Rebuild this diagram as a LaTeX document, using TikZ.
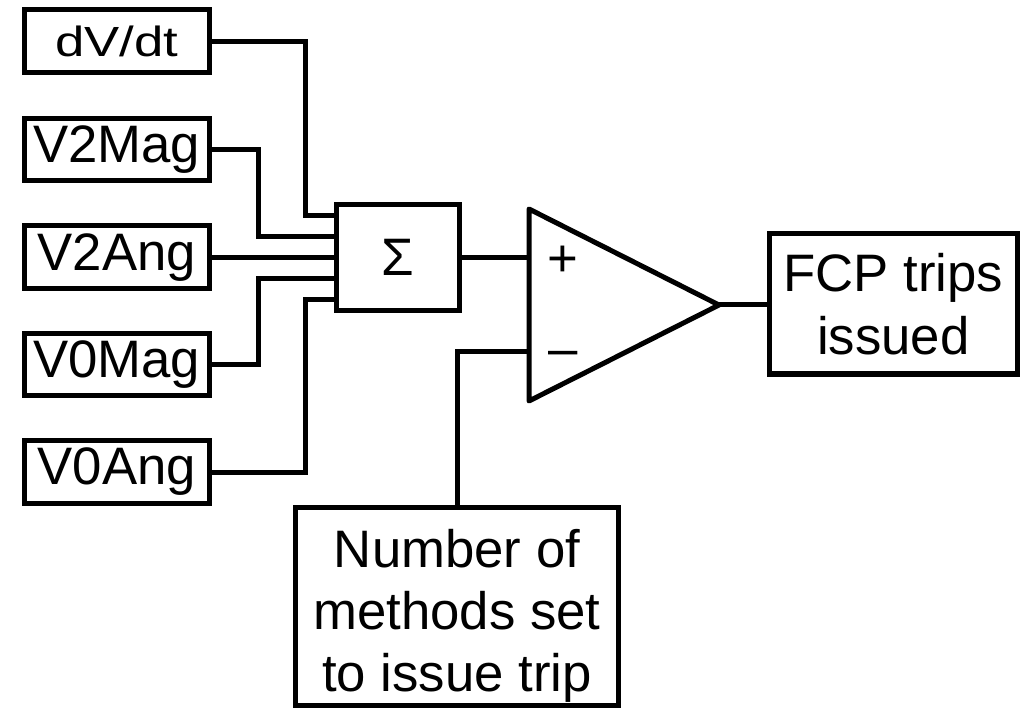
\documentclass[tikz,border=0pt]{standalone}
\usepackage{graphicx}
\usepackage{fontspec}
\setmainfont{Liberation Sans}

\begin{document}
\begin{tikzpicture}[
    blk/.style={draw, line width=0.1cm, inner sep=0pt, align=center, font=\fontsize{30}{35.5}\selectfont},
    inbox/.style={blk, minimum width=3.71cm, minimum height=1.25cm},
    wire/.style={line width=0.1cm},
    sgn/.style={anchor=base, inner sep=0pt, font=\fontsize{30}{35.5}\selectfont}
]
    \useasboundingbox (0,0) rectangle (20.66,-14.18);

    % input quantities
    \node[inbox] (dvdt) at (2.335,-0.824) {\fontsize{24}{28}\selectfont\scalebox{1.25}[1]{dV/dt}};
    \node[inbox] (v2mag) at (2.335,-2.988) {V2Mag};
    \node[inbox] (v2ang) at (2.335,-5.144) {V2Ang};
    \node[inbox] (v0mag) at (2.335,-7.29) {V0Mag};
    \node[inbox] (v0ang) at (2.335,-9.44) {V0Ang};

    % summing block
    \node[blk, minimum width=2.45cm, minimum height=2.12cm] (sum) at (7.96,-5.144) {Σ};

    % comparator
    \coordinate (cmptop) at (10.58,-4.18);
    \coordinate (cmpbot) at (10.58,-8.02);
    \coordinate (cmptip) at (14.38,-6.1);
    \coordinate (cmpminus) at (10.58,-7.04);
    \draw[wire, line join=round] (cmptop) -- (cmptip) -- (cmpbot) -- cycle;
    \node[sgn] (plus) at (11.26,-5.54) {+};
    \node[sgn] (minus) at (11.27,-7.32) {–};

    \node[blk, minimum width=4.97cm, minimum height=2.8cm] (fcp) at (17.865,-6.08) {FCP trips\\issued};
    \node[blk, minimum width=6.46cm, minimum height=3.96cm, text height=3.63cm] (nmeth) at (9.14,-12.13) {Number of\\methods set\\to issue trip};

    % wiring
    \draw[wire] (dvdt.east) -- ++(1.86,0) |- ([yshift=0.84cm]sum.west);
    \draw[wire] (v2mag.east) -- ++(0.92,0) |- ([yshift=0.42cm]sum.west);
    \draw[wire] (v2ang.east) -- (sum.west);
    \draw[wire] (v0mag.east) -- ++(0.92,0) |- ([yshift=-0.42cm]sum.west);
    \draw[wire] (v0ang.east) -- ++(1.86,0) |- ([yshift=-0.84cm]sum.west);
    \draw[wire] (sum.east) -- (sum.east -| cmptop);
    \draw[wire] (nmeth.north) |- (cmpminus);
    \draw[wire] (cmptip) -- (cmptip -| fcp.west);
\end{tikzpicture}
\end{document}
